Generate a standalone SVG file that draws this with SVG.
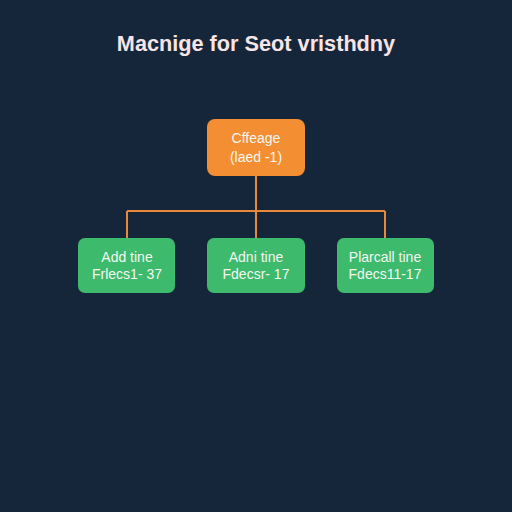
<svg xmlns="http://www.w3.org/2000/svg" width="512" height="512" viewBox="0 0 512 512">
<style>
.t{font-family:"Liberation Sans",Arial,sans-serif;text-anchor:middle}
.title{font-size:21.7px;font-weight:bold;fill:#f6e4e6}
.lbl{font-size:14px;fill:#f3f7f2}
.org{fill:#f38f32}
.grn{fill:#3dba6c}
.conn{stroke:#e8893a;stroke-width:2;fill:none}
</style>
<rect width="512" height="512" fill="#16263a"/>
<text class="t title" x="256" y="51">Macnige for Seot vristhdny</text>
<g id="connectors">
<path class="conn" d="M256 176V211M127 211H385M127 211V238M256 211V238M385 211V238"/>
</g>
<g id="root">
<rect class="org" x="207" y="119" width="98" height="57" rx="8"/>
<text class="t lbl" x="256" y="143">Cffeage</text>
<text class="t lbl" x="256" y="162">(laed -1)</text>
</g>
<g id="n1">
<rect class="grn" x="78" y="238" width="97" height="55" rx="7"/>
<text class="t lbl" x="127" y="262">Add tine</text>
<text class="t lbl" x="127" y="279">Frlecs1- 37</text>
</g>
<g id="n2">
<rect class="grn" x="207" y="238" width="98" height="55" rx="7"/>
<text class="t lbl" x="256" y="262">Adni tine</text>
<text class="t lbl" x="256" y="279">Fdecsr- 17</text>
</g>
<g id="n3">
<rect class="grn" x="337" y="238" width="97" height="55" rx="7"/>
<text class="t lbl" x="385" y="262">Plarcall tine</text>
<text class="t lbl" x="385" y="279">Fdecs11-17</text>
</g>
</svg>
